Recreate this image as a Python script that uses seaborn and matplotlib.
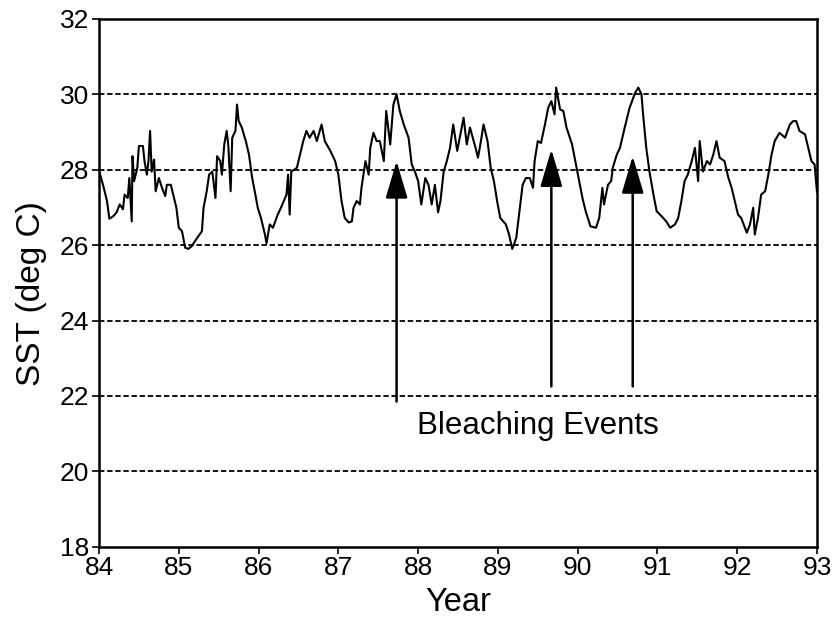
import matplotlib
matplotlib.use("Agg")
import matplotlib.pyplot as plt
import seaborn as sns
import pandas as pd

# ---- data ----
year = [84.01, 84.05, 84.10, 84.13, 84.18, 84.22, 84.26, 84.30, 84.32, 84.36, 84.38, 84.41, 84.42, 84.44,
        84.48, 84.50, 84.55, 84.57, 84.60, 84.62, 84.64, 84.66, 84.69, 84.71, 84.75, 84.79, 84.83, 84.85,
        84.90, 84.93, 84.97, 85.00, 85.04, 85.08, 85.12, 85.16, 85.23, 85.29, 85.31, 85.35, 85.38, 85.42,
        85.46, 85.48, 85.52, 85.54, 85.57, 85.60, 85.62, 85.65, 85.67, 85.71, 85.73, 85.75, 85.79, 85.84,
        85.88, 85.92, 85.96, 85.99, 86.03, 86.08, 86.10, 86.14, 86.18, 86.24, 86.28, 86.35, 86.37, 86.39,
        86.41, 86.48, 86.52, 86.56, 86.60, 86.64, 86.69, 86.73, 86.79, 86.83, 86.90, 86.96, 87.00, 87.04,
        87.08, 87.13, 87.17, 87.19, 87.23, 87.27, 87.29, 87.34, 87.38, 87.40, 87.44, 87.48, 87.52, 87.57,
        87.60, 87.65, 87.69, 87.73, 87.77, 87.82, 87.88, 87.92, 87.96, 88.00, 88.04, 88.09, 88.13, 88.17,
        88.21, 88.25, 88.28, 88.32, 88.36, 88.40, 88.44, 88.49, 88.53, 88.57, 88.61, 88.65, 88.72, 88.75,
        88.78, 88.82, 88.87, 88.91, 88.95, 88.99, 89.03, 89.10, 89.14, 89.18, 89.23, 89.27, 89.31, 89.35,
        89.40, 89.44, 89.46, 89.50, 89.54, 89.59, 89.63, 89.67, 89.71, 89.73, 89.78, 89.82, 89.86, 89.93,
        89.97, 90.01, 90.06, 90.10, 90.16, 90.23, 90.27, 90.31, 90.33, 90.38, 90.42, 90.44, 90.49, 90.53,
        90.59, 90.65, 90.72, 90.76, 90.80, 90.82, 90.86, 90.90, 90.95, 90.99, 91.05, 91.11, 91.16, 91.22,
        91.26, 91.30, 91.34, 91.38, 91.43, 91.47, 91.51, 91.53, 91.57, 91.62, 91.66, 91.70, 91.74, 91.78,
        91.84, 91.89, 91.93, 91.97, 92.01, 92.05, 92.12, 92.16, 92.20, 92.22, 92.26, 92.30, 92.35, 92.39,
        92.43, 92.47, 92.53, 92.60, 92.66, 92.70, 92.74, 92.78, 92.85, 92.89, 92.93, 92.97, 93.00]
sst = [27.90, 27.60, 27.17, 26.70, 26.77, 26.87, 27.08, 26.95, 27.34, 27.25, 27.78, 26.63, 28.36, 27.70,
       28.05, 28.63, 28.63, 28.23, 27.87, 28.23, 29.03, 27.95, 28.27, 27.43, 27.78, 27.52, 27.30, 27.60,
       27.60, 27.34, 26.99, 26.46, 26.37, 25.93, 25.90, 25.97, 26.19, 26.37, 26.99, 27.43, 27.87, 27.95,
       27.25, 28.36, 28.23, 27.87, 28.67, 29.03, 28.67, 27.43, 28.85, 29.03, 29.73, 29.30, 29.12, 28.76,
       28.40, 27.78, 27.34, 26.99, 26.72, 26.28, 26.05, 26.55, 26.46, 26.81, 26.99, 27.34, 27.87, 26.81,
       27.95, 28.05, 28.40, 28.76, 29.03, 28.85, 29.03, 28.76, 29.20, 28.76, 28.50, 28.23, 27.87, 27.17,
       26.72, 26.60, 26.63, 26.99, 27.17, 27.08, 27.52, 28.23, 27.87, 28.58, 28.98, 28.76, 28.76, 28.23,
       29.56, 28.67, 29.73, 30.00, 29.56, 29.20, 28.85, 28.14, 27.95, 27.70, 27.08, 27.78, 27.60, 27.08,
       27.60, 26.87, 27.17, 27.95, 28.23, 28.58, 29.20, 28.50, 28.94, 29.38, 28.67, 29.12, 28.58, 28.32,
       28.67, 29.20, 28.76, 28.05, 27.70, 27.17, 26.72, 26.55, 26.28, 25.90, 26.19, 26.90, 27.60, 27.78,
       27.78, 27.52, 28.23, 28.76, 28.71, 29.20, 29.64, 29.82, 29.47, 30.18, 29.60, 29.56, 29.12, 28.67,
       28.23, 27.78, 27.25, 26.90, 26.50, 26.46, 26.72, 27.52, 27.08, 27.60, 27.70, 28.05, 28.40, 28.58,
       29.12, 29.64, 30.04, 30.18, 30.00, 29.47, 28.58, 27.95, 27.34, 26.90, 26.77, 26.63, 26.46, 26.55,
       26.72, 27.17, 27.70, 27.87, 28.23, 28.58, 27.70, 28.76, 27.95, 28.23, 28.14, 28.40, 28.76, 28.32,
       28.23, 27.78, 27.52, 27.17, 26.81, 26.72, 26.33, 26.55, 26.99, 26.28, 26.72, 27.34, 27.43, 27.87,
       28.40, 28.76, 28.98, 28.85, 29.20, 29.29, 29.29, 29.03, 28.94, 28.58, 28.23, 28.14, 27.40]

event_years = [87.73, 89.67, 90.69]
event_tail = [21.85, 22.25, 22.25]
event_head = [28.23, 28.54, 28.36]
event_label = "Bleaching Events"

x_ticks = [84, 85, 86, 87, 88, 89, 90, 91, 92, 93]
y_ticks = [18, 20, 22, 24, 26, 28, 30, 32]

df = pd.DataFrame({"Year": year, "SST": sst})

sns.set_style("ticks")
plt.rcParams["font.family"] = ["Liberation Sans", "DejaVu Sans"]
plt.rcParams["text.color"] = "black"
plt.rcParams["axes.labelcolor"] = "black"
plt.rcParams["xtick.color"] = "black"
plt.rcParams["ytick.color"] = "black"

fig = plt.figure(figsize=(8.37, 6.22), dpi=100)
ax = fig.add_axes([0.1183, 0.1211, 0.8578, 0.8484])

for yv in y_ticks[1:-1]:
    ax.axhline(yv, color="black", lw=1.3, ls=(0, (3, 1.5)), zorder=1)

sns.lineplot(data=df, x="Year", y="SST", ax=ax, color="black", lw=1.5, zorder=3)

for xe, t, h in zip(event_years, event_tail, event_head):
    ax.annotate("", xy=(xe, h), xytext=(xe, t),
                arrowprops=dict(arrowstyle="-|>,head_length=1.15,head_width=0.34",
                                mutation_scale=20, lw=1.8, color="black",
                                shrinkA=0, shrinkB=0), zorder=4)

ax.text(89.5, 21.2, event_label, ha="center", va="center", fontsize=22.5, color="black")

ax.set_xlim(84, 93)
ax.set_ylim(18, 32)
ax.set_xticks(x_ticks)
ax.set_yticks(y_ticks)
ax.set_xticklabels([str(v) for v in x_ticks])
ax.set_yticklabels([str(v) for v in y_ticks])
ax.tick_params(axis="both", labelsize=19, direction="out", length=5, width=1.2,
               color="black", labelcolor="black", pad=2)
ax.set_xlabel("Year", fontsize=23.5, labelpad=5, color="black")
ax.set_ylabel("SST (deg C)", fontsize=24, labelpad=3, color="black")
ax.yaxis.set_label_coords(-0.073, 0.48)

for s in ax.spines.values():
    s.set_visible(True)
    s.set_color("black")
    s.set_linewidth(1.8)

fig.savefig("out.png", dpi=100, facecolor="white")
